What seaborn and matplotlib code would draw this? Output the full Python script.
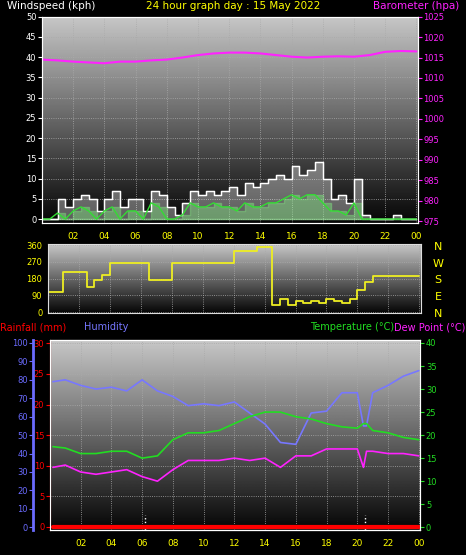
import numpy as np
import pandas as pd
import matplotlib
matplotlib.use("Agg")
import matplotlib.pyplot as plt
import seaborn as sns

# half-hourly times for wind
t_half = [i / 2 for i in range(49)]
wind_avg = [0, 0, 1.5, 0, 2, 3, 2, 0, 2, 3, 0, 2, 2, 0, 4, 3, 0, 0, 1, 4, 3, 3, 4, 3, 3, 2,
            4, 3, 3, 4, 4, 5, 6, 5, 6, 6, 4, 2, 2, 1, 4, 0, 0, 0, 0, 0, 0, 0, 0]
wind_gust = [0, 0, 5, 3, 5, 6, 5, 2, 5, 7, 3, 5, 5, 2, 7, 6, 3, 1, 4, 7, 6, 7, 6, 7, 8, 6,
             9, 8, 9, 10, 11, 10, 13, 11, 12, 14, 10, 5, 6, 4, 10, 1, 0, 0, 0, 1, 0, 0, 0]

t_hour = list(range(25))
pressure = [1014.5, 1014.3, 1014.0, 1013.8, 1013.6, 1014.0, 1014.0, 1014.3, 1014.5, 1015.0,
            1015.6, 1016.0, 1016.2, 1016.2, 1016.0, 1015.6, 1015.2, 1015.0, 1015.2, 1015.3,
            1015.2, 1015.6, 1016.4, 1016.6, 1016.5]

wind_dir = [110, 110, 215, 215, 215, 135, 175, 200, 265, 265, 265, 265, 265, 175, 175, 175,
            265, 265, 265, 265, 265, 265, 265, 265, 330, 330, 330, 350, 350, 40, 70, 40,
            60, 50, 60, 50, 70, 60, 50, 70, 120, 160, 195, 195, 195, 195, 195, 195, 195]

t_clim = [0.2, 1, 2, 3, 4, 5, 6, 7, 8, 9, 10, 11, 12, 13, 14, 15, 16, 17, 18, 19, 20, 20.4, 20.6, 21, 22, 23, 24]
humidity = [79, 80, 77, 75, 76, 74, 80, 74, 71, 66, 67, 66, 68, 62, 56, 46, 45, 62, 63, 73, 73, 55, 55, 73, 77, 82, 85]
temperature = [17.5, 17.2, 16, 16, 16.5, 16.5, 15, 15.5, 19, 20.5, 20.5, 21, 22.5, 24, 25, 25,
               24, 23.5, 22.5, 21.8, 21.5, 22.5, 22.5, 21, 20.5, 19.5, 19]
dewpoint = [13, 13.5, 12, 11.5, 12, 12.5, 11, 10, 12.5, 14.5, 14.5, 14.5, 15, 14.5, 15, 13,
            15.5, 15.5, 17, 17, 17, 13, 16.5, 16.5, 16, 16, 15.5]
rainfall = [0] * len(t_clim)

hour_ticks = list(range(2, 25, 2))
hour_labels = ["%02d" % (h % 24) for h in hour_ticks]

sns.set_style("dark")
plt.rcParams['font.family'] = ['DejaVu Sans']
fig = plt.figure(figsize=(4.66, 5.55), dpi=100, facecolor="black")
grad = np.linspace(0.78, 0.02, 256).reshape(-1, 1)


def prep(ax, ylim, yticks, ycol, xmin=0):
    ax.set_facecolor("black")
    ax.imshow(grad, cmap="gray", vmin=0, vmax=1, aspect="auto", extent=[0, 1, 0, 1],
              transform=ax.transAxes, zorder=0)
    ax.set_xlim(xmin, 24.1)
    ax.set_ylim(*ylim)
    ax.set_xticks(hour_ticks)
    ax.set_xticklabels(hour_labels)
    ax.set_yticks(yticks)
    ax.tick_params(axis="x", colors="yellow", labelsize=6.5, length=3, width=1)
    ax.tick_params(axis="y", colors=ycol, labelsize=6, length=3, pad=1)
    ax.grid(True, color="#aaaaaa", linestyle=":", linewidth=0.6)
    for s in ax.spines.values():
        s.set_color("#dddddd")
    ax.set_xlabel("")
    ax.set_ylabel("")


# --- wind / barometer ---
ax1 = fig.add_axes([0.09, 0.598, 0.807, 0.372])
prep(ax1, (-1, 50), range(0, 51, 5), "white")
ax1.fill_between(t_half, wind_gust, step="post", color="white", alpha=0.35, zorder=2)
ax1.fill_between(t_half, wind_avg, step="post", color="#7fe07f", alpha=0.45, zorder=2)
sns.lineplot(x=t_half, y=wind_gust, ax=ax1, color="white", lw=1, drawstyle="steps-post", zorder=3)
sns.lineplot(x=t_half, y=wind_avg, ax=ax1, color="#33dd33", lw=1, zorder=4)
ax1b = ax1.twinx()
sns.lineplot(x=t_hour, y=pressure, ax=ax1b, color="#ff22ff", lw=1.5)
ax1b.set_ylim(974.5, 1025)
ax1b.set_yticks(range(975, 1026, 5))
ax1b.tick_params(axis="y", colors="#ff22ff", labelsize=6, length=3, pad=1)
ax1b.set_ylabel("")
fig.text(0.015, 0.999, "Windspeed (kph)", color="white", fontsize=7.5, va="top")
fig.text(0.5, 0.999, "24 hour graph day : 15 May 2022", color="yellow", fontsize=7.5, va="top", ha="center")
fig.text(0.985, 0.999, "Barometer (hpa)", color="#ff22ff", fontsize=7.5, va="top", ha="right")

# --- wind direction ---
ax2 = fig.add_axes([0.103, 0.436, 0.8, 0.124])
prep(ax2, (-5, 365), [0, 90, 180, 270, 360], "yellow")
ax2.set_xticklabels([])
ax2.tick_params(axis="x", length=0)
sns.lineplot(x=t_half, y=wind_dir, ax=ax2, color="#eeee22", lw=1.3, drawstyle="steps-post")
for i, d in enumerate(["N", "W", "S", "E", "N"]):
    fig.text(0.94, 0.555 - i * 0.03, d, color="yellow", fontsize=8, va="center", ha="center")

# --- temperature / humidity ---
ax3 = fig.add_axes([0.107, 0.045, 0.795, 0.342])
prep(ax3, (-0.5, 30.5), range(0, 31, 5), "red")
ax3.spines["left"].set_color("red")
sns.lineplot(x=t_clim, y=rainfall, ax=ax3, color="red", lw=3, zorder=5)
for x in [6.2, 20.5]:
    ax3.axvline(x, ymax=0.08, color="white", ls=":", lw=1)
axh = ax3.twinx()
axh.spines["right"].set_visible(False)
axh.spines["left"].set_visible(True)
axh.spines["left"].set_position(("axes", -0.045))
axh.spines["left"].set_color("#6b6bff")
axh.spines["left"].set_linewidth(2)
axh.yaxis.set_ticks_position("left")
axh.set_ylim(-1.5, 101.5)
axh.set_yticks(range(0, 101, 10))
axh.tick_params(axis="y", colors="#6b6bff", labelsize=6, length=3, pad=1)
sns.lineplot(x=t_clim, y=humidity, ax=axh, color="#7777ff", lw=1.2)
axh.set_ylabel("")
axt = ax3.twinx()
axt.set_ylim(-0.6, 40.6)
axt.set_yticks(range(0, 41, 5))
axt.tick_params(axis="y", colors="#22dd22", labelsize=6, length=3, pad=1)
sns.lineplot(x=t_clim, y=temperature, ax=axt, color="#22dd22", lw=1.2)
sns.lineplot(x=t_clim, y=dewpoint, ax=axt, color="#ff22ff", lw=1.2)
axt.set_ylabel("")
fig.text(0.0, 0.41, "Rainfall (mm)", color="red", fontsize=7, va="center")
fig.text(0.18, 0.41, "Humidity", color="#7777ff", fontsize=7, va="center")
fig.text(0.665, 0.41, "Temperature (°C)", color="#22dd22", fontsize=7, va="center")
fig.text(0.999, 0.41, "Dew Point (°C)", color="#ff22ff", fontsize=7, va="center", ha="right")

fig.savefig("out.png", dpi=100, facecolor="black")
